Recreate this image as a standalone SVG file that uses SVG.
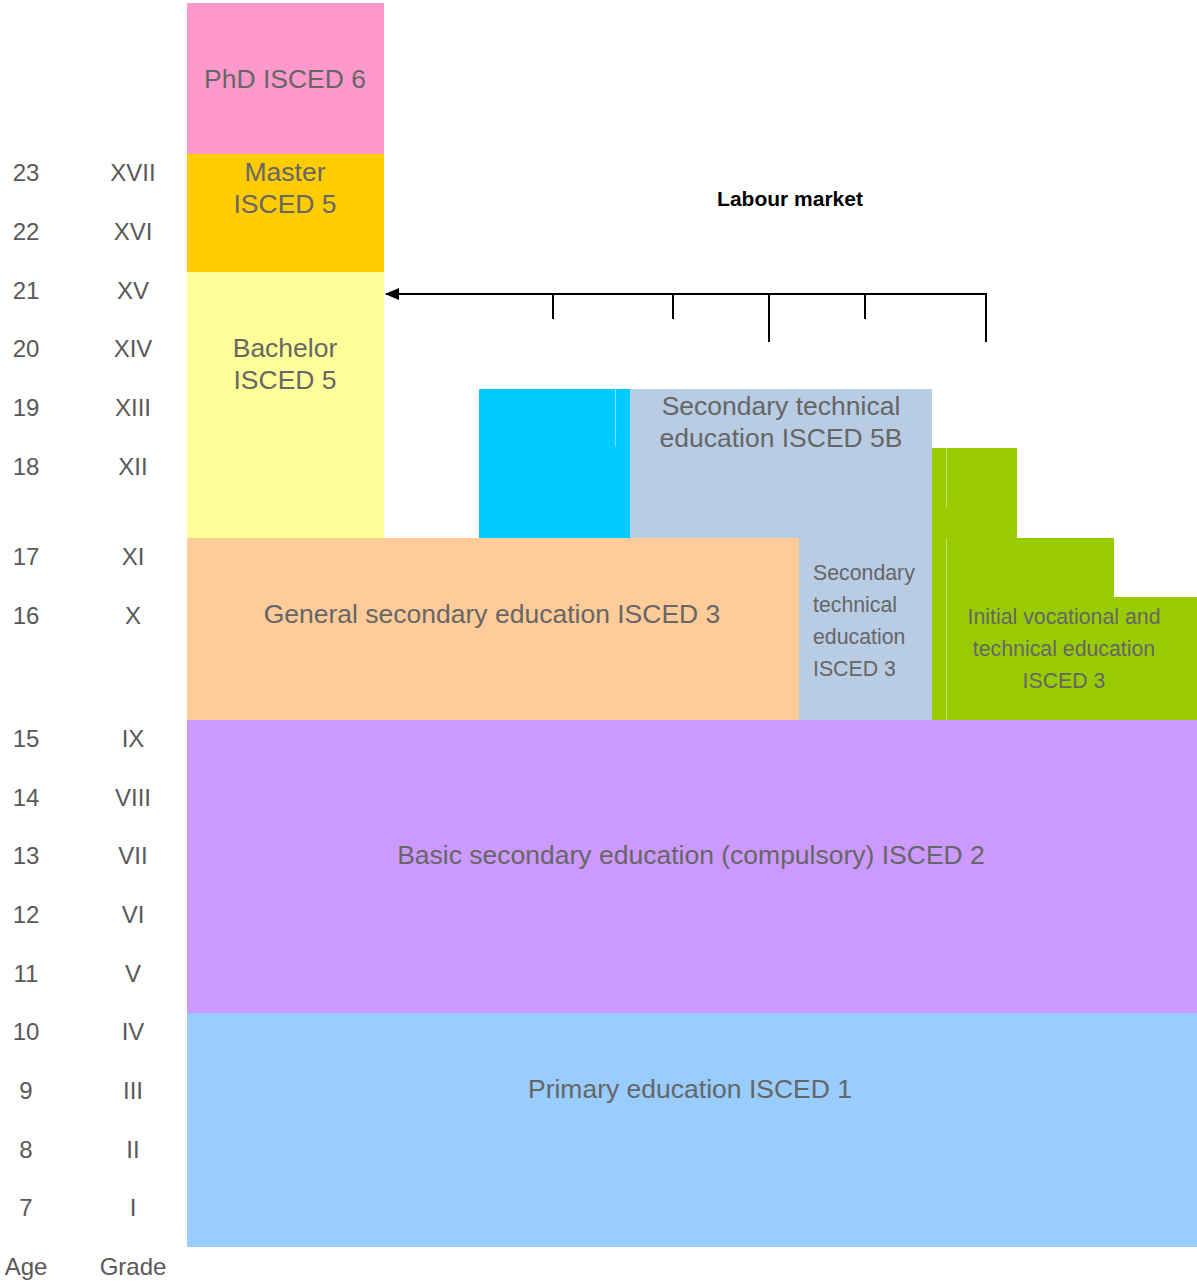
<svg xmlns="http://www.w3.org/2000/svg" width="1197" height="1282" viewBox="0 0 1197 1282">
<style>
.lbl{font-family:"Liberation Sans",Arial,sans-serif;font-size:24px;fill:#595959;text-anchor:middle}
.box{font-family:"Liberation Sans",Arial,sans-serif;font-size:26.5px;fill:#666666;text-anchor:middle}
.sm{font-family:"Liberation Sans",Arial,sans-serif;font-size:21.3px;fill:#666666}
.lm{font-family:"Liberation Sans",Arial,sans-serif;font-size:21px;font-weight:bold;fill:#000}
.conn{stroke:#000;stroke-width:2;fill:none}
.art{stroke:#ffffff;stroke-opacity:0.45;stroke-width:1}
</style>
<defs>
<marker id="arr" viewBox="0 0 14 12" refX="13" refY="6" markerWidth="14" markerHeight="12" markerUnits="userSpaceOnUse" orient="auto">
<path d="M0,0 L14,6 L0,12 Z" fill="#000"/>
</marker>
</defs>
<rect width="1197" height="1282" fill="#fff"/>

<g id="axis">
<text class="lbl" x="26" y="181">23</text><text class="lbl" x="133" y="181">XVII</text>
<text class="lbl" x="26" y="240">22</text><text class="lbl" x="133" y="240">XVI</text>
<text class="lbl" x="26" y="299">21</text><text class="lbl" x="133" y="299">XV</text>
<text class="lbl" x="26" y="357">20</text><text class="lbl" x="133" y="357">XIV</text>
<text class="lbl" x="26" y="416">19</text><text class="lbl" x="133" y="416">XIII</text>
<text class="lbl" x="26" y="475">18</text><text class="lbl" x="133" y="475">XII</text>
<text class="lbl" x="26" y="565">17</text><text class="lbl" x="133" y="565">XI</text>
<text class="lbl" x="26" y="624">16</text><text class="lbl" x="133" y="624">X</text>
<text class="lbl" x="26" y="747">15</text><text class="lbl" x="133" y="747">IX</text>
<text class="lbl" x="26" y="806">14</text><text class="lbl" x="133" y="806">VIII</text>
<text class="lbl" x="26" y="864">13</text><text class="lbl" x="133" y="864">VII</text>
<text class="lbl" x="26" y="923">12</text><text class="lbl" x="133" y="923">VI</text>
<text class="lbl" x="26" y="982">11</text><text class="lbl" x="133" y="982">V</text>
<text class="lbl" x="26" y="1040">10</text><text class="lbl" x="133" y="1040">IV</text>
<text class="lbl" x="26" y="1099">9</text><text class="lbl" x="133" y="1099">III</text>
<text class="lbl" x="26" y="1158">8</text><text class="lbl" x="133" y="1158">II</text>
<text class="lbl" x="26" y="1216">7</text><text class="lbl" x="133" y="1216">I</text>
<text class="lbl" x="26" y="1275">Age</text><text class="lbl" x="133" y="1275">Grade</text>
</g>

<g id="phd">
<rect x="187" y="3" width="197" height="151" fill="#FF99CC"/>
<text class="box" x="285" y="88">PhD ISCED 6</text>
</g>
<g id="master">
<rect x="187" y="154" width="197" height="118" fill="#FFCC00"/>
<text class="box" x="285" y="181">Master</text>
<text class="box" x="285" y="213">ISCED 5</text>
</g>
<g id="bachelor">
<rect x="187" y="272" width="197" height="266" fill="#FFFF99"/>
<text class="box" x="285" y="357">Bachelor</text>
<text class="box" x="285" y="389">ISCED 5</text>
</g>

<g id="cyan">
<rect x="479" y="389" width="151" height="149" fill="#00CCFF"/>
<line class="art" x1="615.5" y1="389" x2="615.5" y2="447"/>
</g>
<g id="tech5b">
<rect x="630" y="389" width="302" height="149" fill="#B8CCE4"/>
<text class="box" x="781" y="415">Secondary technical</text>
<text class="box" x="781" y="447">education ISCED 5B</text>
</g>

<g id="general">
<rect x="187" y="538" width="612" height="182" fill="#FFCC99"/>
<text class="box" x="492" y="623">General secondary education ISCED 3</text>
</g>
<g id="tech3">
<rect x="799" y="538" width="133" height="182" fill="#B8CCE4"/>
<text class="sm" x="813" y="580">Secondary</text>
<text class="sm" x="813" y="612">technical</text>
<text class="sm" x="813" y="644">education</text>
<text class="sm" x="813" y="676">ISCED 3</text>
</g>
<g id="vocational">
<path d="M932,448 H1017 V538 H1114 V597 H1197 V720 H932 Z" fill="#99CC00"/>
<line class="art" x1="946.5" y1="448" x2="946.5" y2="507"/>
<line class="art" x1="946.5" y1="538" x2="946.5" y2="720"/>
<text class="sm" x="1064" y="624" text-anchor="middle">Initial vocational and</text>
<text class="sm" x="1064" y="656" text-anchor="middle">technical education</text>
<text class="sm" x="1064" y="688" text-anchor="middle">ISCED 3</text>
</g>

<g id="basic">
<rect x="187" y="720" width="1010" height="293" fill="#CC99FF"/>
<text class="box" x="691" y="864">Basic secondary education (compulsory) ISCED 2</text>
</g>
<g id="primary">
<rect x="187" y="1013" width="1010" height="234" fill="#99CCFF"/>
<text class="box" x="690" y="1098">Primary education ISCED 1</text>
</g>

<g id="labour">
<text class="lm" x="790" y="206" text-anchor="middle">Labour market</text>
</g>

<g id="connectors">
<line class="conn" x1="986" y1="294" x2="386" y2="294" marker-end="url(#arr)"/>
<line class="conn" x1="553" y1="294" x2="553" y2="319"/>
<line class="conn" x1="673" y1="294" x2="673" y2="319"/>
<line class="conn" x1="769" y1="294" x2="769" y2="342"/>
<line class="conn" x1="865" y1="294" x2="865" y2="319"/>
<line class="conn" x1="986" y1="293" x2="986" y2="342"/>
</g>
</svg>
